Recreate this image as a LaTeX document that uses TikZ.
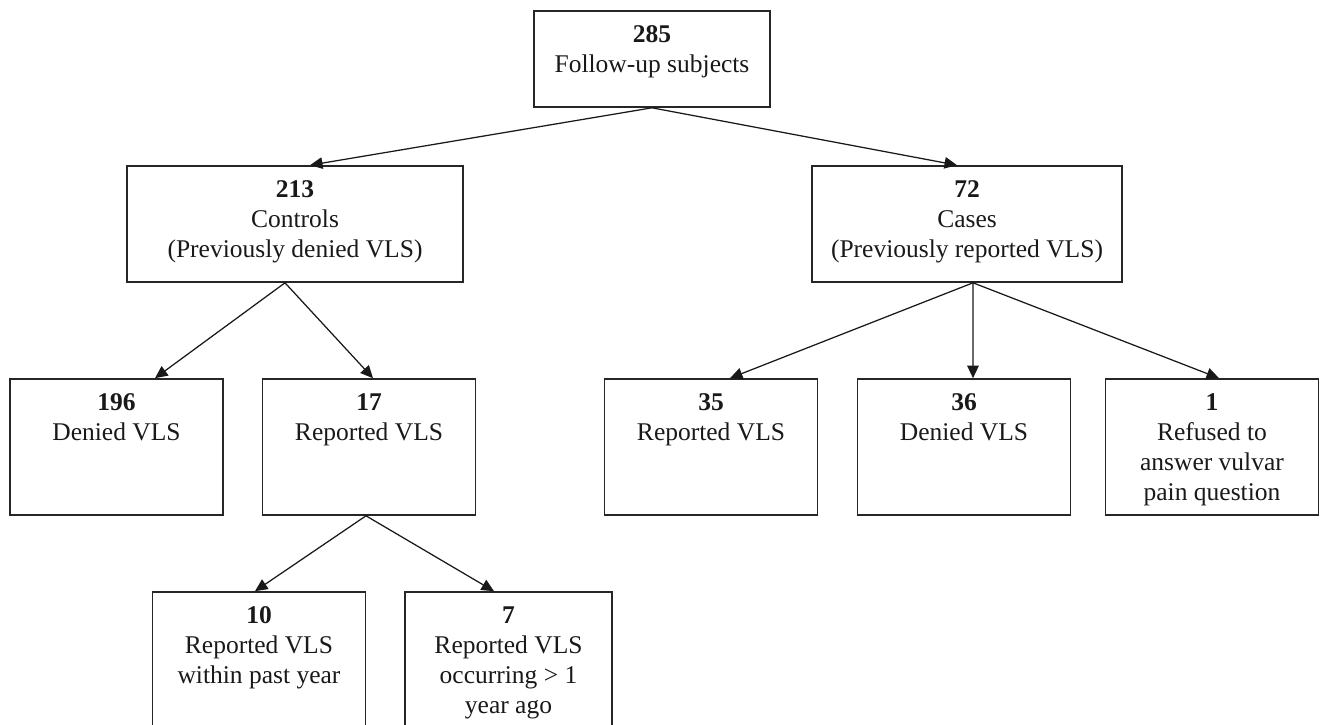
\documentclass[tikz,border=0pt]{standalone}
\usepackage{fontspec}
\setmainfont{Liberation Serif}
\usetikzlibrary{positioning, arrows.meta}

\begin{document}
\begin{tikzpicture}[
  x=0.4pt, y=-0.4pt,
  font=\fontsize{10.2pt}{12pt}\selectfont,
  flowarrow/.style={-{Triangle[length=5pt, width=4.6pt]}, line width=0.5pt, draw=black!90},
  flowbox/.style={rectangle, draw=black!85, line width=0.65pt,
                  minimum width=85.2pt, minimum height=54.4pt, inner sep=0pt},
  flowtext/.style={align=center, inner sep=0pt, text=black!90}
]
\useasboundingbox (0,0) rectangle (1320,725);
\clip (0,0) rectangle (1320,725);

% -------- TOPO --------
\node[flowbox, minimum width=94.4pt, minimum height=38.4pt] (n0) at (652,59) {};
\node[flowtext, below=6pt of n0.north] (n0t) {\textbf{285}\\Follow-up subjects};

% -------- CONTROLES / CASOS --------
\node[flowbox, minimum width=134.4pt, minimum height=46.4pt] (c1) at (295,224) {};
\node[flowtext, below=6pt of c1.north] (c1t) {\textbf{213}\\Controls\\(Previously denied VLS)};
\node[flowbox, minimum width=124pt, minimum height=46.4pt] (c2) at (967,224) {};
\node[flowtext, below=6pt of c2.north] (c2t) {\textbf{72}\\Cases\\(Previously reported VLS)};

% -------- SEGUNDO NIVEL --------
\node[flowbox] (d1) at (116.5,447) {};
\node[flowtext, below=6pt of d1.north] (d1t) {\textbf{196}\\Denied VLS};
\node[flowbox] (d2) at (369,447) {};
\node[flowtext, below=6pt of d2.north] (d2t) {\textbf{17}\\Reported VLS};
\node[flowbox] (d3) at (711,447) {};
\node[flowtext, below=6pt of d3.north] (d3t) {\textbf{35}\\Reported VLS};
\node[flowbox] (d4) at (964,447) {};
\node[flowtext, below=6pt of d4.north] (d4t) {\textbf{36}\\Denied VLS};
\node[flowbox] (d5) at (1212,447) {};
\node[flowtext, below=6pt of d5.north] (d5t) {\textbf{1}\\Refused to\\answer vulvar\\pain question};

% -------- TERCEIRO NIVEL --------
\node[flowbox, minimum height=59.2pt] (e1) at (259,666) {};
\node[flowtext, below=6pt of e1.north] (e1t) {\textbf{10}\\Reported VLS\\within past year};
\node[flowbox, minimum width=82.8pt, minimum height=59.2pt] (e2) at (508.5,666) {};
\node[flowtext, below=6pt of e2.north] (e2t) {\textbf{7}\\Reported VLS\\occurring > 1\\year ago};

% Setas
\draw[flowarrow] (n0.south) -- ([xshift=6pt]c1.north);
\draw[flowarrow] (n0.south) -- ([xshift=-4pt]c2.north);

\draw[flowarrow] ([xshift=-4pt]c1.south) -- ([xshift=15.4pt]d1.north);
\draw[flowarrow] ([xshift=-4pt]c1.south) -- ([xshift=1.6pt]d2.north);

\draw[flowarrow] ([xshift=2.4pt]c2.south) -- ([xshift=7.6pt]d3.north);
\draw[flowarrow] ([xshift=2.4pt]c2.south) -- ([xshift=3.6pt]d4.north);
\draw[flowarrow] ([xshift=2.4pt]c2.south) -- ([xshift=2.8pt]d5.north);

\draw[flowarrow] ([xshift=-1.2pt]d2.south) -- ([xshift=-1.6pt]e1.north);
\draw[flowarrow] ([xshift=-1.2pt]d2.south) -- ([xshift=-5.8pt]e2.north);

\end{tikzpicture}
\end{document}
